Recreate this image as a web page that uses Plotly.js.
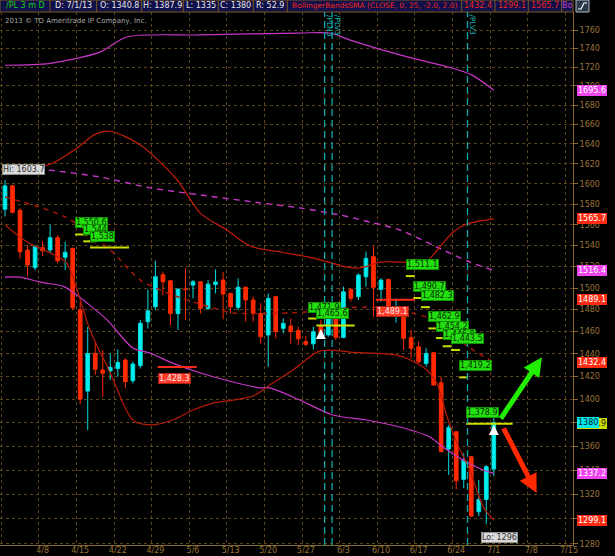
<!DOCTYPE html>
<html><head><meta charset="utf-8">
<script src="https://cdn.plot.ly/plotly-3.0.1.min.js"></script>
<style>html,body{margin:0;padding:0;background:#000;}#chart{width:615px;height:556px;}</style>
</head><body><div id="chart"></div>
<script>
// ---------- DATA ----------
const openP  = [1575,1598,1574,1535.7,1519,1538,1535.7,1547.5,1528.8,1537.3,1479.7,1407.2,1440.4,1425.7,1424.8,1427,1434.5,1416.3,1429.5,1469,1482.7,1512.4,1506.7,1476.4,1499,1502.7,1505.8,1481.2,1503.3,1507.4,1495,1482.1,1500.7,1488.9,1476.4,1457,1491.9,1463,1465,1461,1451,1449,1464.5,1457,1478.2,1454.8,1498.7,1492,1510.5,1529.4,1498.7,1508,1474.3,1475,1454.5,1446.4,1431.5,1441,1414.5,1357.6,1372.2,1332.3,1351.1,1305.8,1315.8,1340.8];
const highP  = [1603.7,1599,1576,1540.5,1540.5,1544.2,1560,1550,1543.6,1538,1487.3,1464.5,1450.9,1443.4,1440.4,1444,1436,1433,1470.5,1498.7,1525.5,1515,1507.4,1499.6,1518.4,1507.4,1506,1507.4,1517.4,1515,1495.5,1509,1501.3,1492,1485.9,1495,1492.5,1472,1472,1464.5,1456,1464.5,1470.5,1487.3,1479.7,1501.3,1499.6,1513.7,1534.2,1539.2,1509,1508,1490,1476.4,1461.5,1450.9,1445,1442,1419.8,1378,1372.5,1354,1351.5,1331.7,1344,1387.9];
const lowP   = [1568,1571,1527.7,1510.5,1516.8,1530,1533,1523,1516.8,1479.7,1396,1373.6,1421.3,1402.3,1416.9,1419.8,1409.6,1414,1427,1463,1479.7,1493.5,1466,1461.5,1470.5,1490.5,1476.4,1479.7,1495,1471.2,1476.4,1479.7,1469,1469,1449.1,1428.6,1454,1458.5,1449.1,1447.9,1446.9,1444,1454,1455.4,1452.4,1454,1487.3,1488.9,1501.3,1473.6,1487.3,1479.7,1468,1443.4,1436,1431.5,1428.6,1411.6,1355,1335.9,1324,1325,1301.8,1302.3,1296,1335];
const closeP = [1598,1572,1534,1521.5,1539,1535,1547.5,1525.5,1533.6,1481.8,1400.3,1440.4,1426.3,1422.8,1428,1432.4,1415.4,1431,1467.5,1478.9,1510.5,1505.8,1476.4,1499,1498.5,1505.8,1481.2,1503.6,1505.5,1494.4,1482.7,1500.7,1488.9,1476.4,1455.4,1490.4,1459.9,1467.5,1460,1453.5,1448.6,1460,1456,1475,1454.8,1496.5,1490.4,1512.1,1527.8,1500.7,1507.4,1482.7,1477,1454,1445,1433,1440.4,1412.5,1355.3,1375.9,1331.1,1348.4,1302.3,1315.8,1342.8,1380];

// Bollinger (25, 2.0) - red
const bbUpperX = [0,6,9.6,12,14,18,22.9,26,29.5,32.6,36.6,41,45.5,47.2,49.9,52.5,55.9,57.8,59.6,61.4,65];
const bbUpperY = [1611,1619.5,1636,1650,1653,1639,1603.8,1571,1554.9,1539.5,1533.8,1528.1,1519.6,1518.7,1524.3,1524.3,1524.3,1538.6,1553,1560.7,1565.7];
const bbMidX = [0,8,14,18,22.3,26,30.3,33,38,43,46,50,54,56,59,61.6,65];
const bbMidY = [1587,1567.5,1535.7,1507.4,1493.5,1485,1477,1476.4,1477,1479.7,1482,1482,1477,1473.3,1460,1446.4,1432.4];
const bbLowerX = [0,2,3.7,6,8.2,9.6,11.3,14,17,19.3,22.3,25,27.7,30.3,33,34.3,35.2,38.3,41.5,43.2,45.9,52.1,53.9,56.1,57.4,58.8,60.1,61.8,63.6,65];
const bbLowerY = [1560,1548,1540.5,1533,1523.5,1498,1461.5,1423,1382.2,1378,1382.2,1390.8,1396.8,1399.4,1402.9,1408.1,1412.5,1425.7,1441.6,1443.4,1441.6,1438.9,1434.5,1425.7,1414.3,1384.8,1362.7,1340,1309.6,1299.1];
// second Bollinger band - magenta
const mgUpperX = [0,6,12.6,16.2,26,39.2,43.2,45.9,52.5,59.2,62,65];
const mgUpperY = [1722,1724,1736,1752.4,1754.6,1756.7,1756.7,1749,1733,1719.5,1712,1695.6];
const mgMidX = [0,5.6,12.6,19.3,26,34,39.2,44.5,48.5,52.5,57.4,61.8,65];
const mgMidY = [1616,1613.8,1606.8,1596,1589,1581.2,1576.3,1569.5,1562.6,1554.9,1538.6,1524.3,1516.4];
const mgLowerX = [0,2,4.7,7.7,9,10.9,13.6,17,19.3,22.3,26,30.3,34,35.2,39.2,43.6,48.1,52.5,56.5,58.2,60.9,63.6,65];
const mgLowerY = [1510.2,1510.2,1505.5,1501.7,1496.3,1486.2,1470.5,1445.2,1440.7,1431.8,1423,1415.1,1410,1410,1399.4,1386.5,1382.2,1376.2,1367.7,1359.3,1348.4,1340,1337.2];

const weekTicks = ['4/8','4/15','4/22','4/29','5/6','5/13','5/20','5/27','6/3','6/10','6/17','6/24','7/1','7/8','7/15'];
const priceTicks = [1280,1300,1320,1340,1360,1380,1400,1420,1440,1460,1480,1500,1520,1540,1560,1580,1600,1620,1640,1660,1680,1700,1720,1740,1760];

const greenText  = ['1,550.6','1,544','1,538','1,471.9','1,465.6','1,511.1','1,490.7','1,482.3','1,462.9','1,454.2','1,446.8','1,443.5','1,419.2','1,378.9'];
const greenPrice = [1550.6,1544,1538,1471.9,1465.6,1511.1,1490.7,1482.3,1462.9,1454.2,1446.8,1443.5,1419.2,1378.9];
const greenStart = [9.3,10.4,11.3,40.3,41.4,53.3,54.3,55.3,56.3,57.3,58.2,59.3,60.4,61.3];
const greenEnd   = [11.0,12.2,16.5,41.5,46.5,54.5,55.5,56.5,57.3,58.2,59.4,60.5,61.4,67.5];
const redText  = ['1,428.3','1,489.1'];
const redPrice = [1428.3,1489.1];
const redStart = [20.3,49.3];
const redEnd   = [25.5,54.5];

const sideText  = ['1695.6','1565.7','1516.4','1489.1','1432.4','1378.9','1380','1337.2','1299.1'];
const sidePrice = [1695.6,1565.7,1516.4,1489.1,1432.4,1378.9,1380,1337.2,1299.1];
const sideBg    = ['#f044f0','#ff2a12','#f044f0','#ff2a12','#ff2a12','#c8dc00','#00e8e8','#f044f0','#ff2a12'];
const sideFg    = ['#ffffff','#ffffff','#ffffff','#ffffff','#ffffff','#202000','#002030','#ffffff','#ffffff'];

const hiText = 'Hi: 1603.7', hiPrice = 1603.7, hiIdx = 0;
const loText = 'Lo: 1296', loPrice = 1296, loIdx = 64;
const expiryIdx = [42.5, 43.5, 61.5];
const expiryText = ['/PLN3','/PLV3','/PLV3'];
const buyIdx = [42, 65];
const buyPrice = [1462.4, 1377.9];

const headerText  = ['/PL 3 m D','D: 7/1/13','O: 1340.8','H: 1387.9','L: 1335','C: 1380','R: 52.9','BollingerBandsSMA (CLOSE, 0, 25, -2.0, 2.0)','1432.4','1299.1','1565.7','Bo'];
const headerColor = ['#19d019','#e8e8e8','#e8e8e8','#e8e8e8','#e8e8e8','#e8e8e8','#e8e8e8','#ee2a1a','#ee2a1a','#ee2a1a','#ee2a1a','#c040d0'];
const headerEdges = [0,50,96.7,141.7,183.3,218.3,253.3,287.3,461.7,495,528.3,561.7,573];

// ---------- LAYOUT HELPERS ----------
const W = 615, H = 556, ML = 0, MR = 42, MT = 12, MB = 11;
const PW = W - ML - MR, PH = H - MT - MB;
const px = x => (x - ML) / PW;
const py = y => (H - MB - y) / PH;
const L = v => Math.log10(v);
const FONT = 'DejaVu Sans';
const BROWN = '#9a7434';

const idx = openP.map((_, i) => i);
const traces = [];
traces.push({
  type: 'candlestick', x: idx, open: openP, high: highP, low: lowP, close: closeP,
  increasing: {line: {color: '#00dede', width: 1}, fillcolor: '#00f0f0'},
  decreasing: {line: {color: '#ff2a00', width: 1}, fillcolor: '#ff2a00'},
  whiskerwidth: 0, hoverinfo: 'skip', showlegend: false
});
function line(x, y, color, dash, width) {
  traces.push({type: 'scatter', mode: 'lines', x: x, y: y, line: {color: color, width: width || 1.2, dash: dash || 'solid', shape: 'spline', smoothing: 0.8}, hoverinfo: 'skip', showlegend: false});
}
line(mgUpperX, mgUpperY, '#c838c8');
line(mgMidX, mgMidY, '#c838c8', '6px,5px', 1.4);
line(mgLowerX, mgLowerY, '#c838c8');
line(bbUpperX, bbUpperY, '#c41c0a');
line(bbMidX, bbMidY, '#b01808', '5px,5px', 1.4);
line(bbLowerX, bbLowerY, '#b81a0a');
greenPrice.forEach((p, k) => traces.push({type: 'scatter', mode: 'lines', x: [greenStart[k], greenEnd[k]], y: [p, p], line: {color: '#cce000', width: 2}, hoverinfo: 'skip', showlegend: false}));
redPrice.forEach((p, k) => traces.push({type: 'scatter', mode: 'lines', x: [redStart[k], redEnd[k]], y: [p, p], line: {color: '#ff2a1a', width: 2}, hoverinfo: 'skip', showlegend: false}));

const shapes = [];
const annotations = [];
// header bar
shapes.push({type: 'rect', xref: 'paper', yref: 'paper', x0: 0, x1: px(573), y0: py(12), y1: py(0), fillcolor: '#10104a', line: {color: '#7a5a1a', width: 1}, layer: 'above'});
headerEdges.slice(1, -1).forEach(e => shapes.push({type: 'line', xref: 'paper', yref: 'paper', x0: px(e), x1: px(e), y0: py(12), y1: py(0), line: {color: '#7a5a1a', width: 1}, layer: 'above'}));
headerText.forEach((t, k) => annotations.push({xref: 'paper', yref: 'paper', x: px((headerEdges[k] + headerEdges[k + 1]) / 2), y: py(6), text: t, showarrow: false, font: {family: FONT, size: k === 7 ? 7.5 : 8, color: headerColor[k]}, xanchor: 'center', yanchor: 'middle'}));
// icon
shapes.push({type: 'rect', xref: 'paper', yref: 'paper', x0: px(576), x1: px(589), y0: py(12), y1: py(0), fillcolor: '#2a3a4a', line: {color: '#b0b8c0', width: 1}, layer: 'above'});
shapes.push({type: 'path', xref: 'paper', yref: 'paper', path: `M ${px(578)} ${py(9)} L ${px(581)} ${py(9)} L ${px(584)} ${py(3)} L ${px(587)} ${py(3)}`, line: {color: '#ffffff', width: 1.2}, layer: 'above'});
// copyright
annotations.push({xref: 'paper', yref: 'paper', x: px(3), y: py(21), text: '2013 © TD Ameritrade IP Company, Inc.', showarrow: false, xanchor: 'left', yanchor: 'middle', font: {family: FONT, size: 7, color: '#a8a8a8'}});
// expiry lines
expiryIdx.forEach((e, k) => {
  shapes.push({type: 'line', xref: 'x', yref: 'paper', x0: e, x1: e, y0: 0, y1: py(12), line: {color: '#10a8a8', width: 1.3, dash: '7px,4px'}, layer: 'above'});
  annotations.push({xref: 'x', yref: 'paper', x: e, y: py(13), text: expiryText[k], textangle: 90, showarrow: false, xanchor: 'left', yanchor: 'top', xshift: -1, font: {family: FONT, size: 7.5, color: '#10b8b8'}});
});
// price bubbles
greenText.forEach((t, k) => annotations.push({x: greenStart[k], y: L(greenPrice[k]), text: t, showarrow: false, xanchor: 'left', yanchor: 'bottom', yshift: 6, bgcolor: '#22e010', bordercolor: '#119000', borderwidth: 1, borderpad: 0, font: {family: FONT, size: 8, color: '#0a2a00'}}));
redText.forEach((t, k) => annotations.push({x: redStart[k], y: L(redPrice[k]), text: t, showarrow: false, xanchor: 'left', yanchor: 'top', yshift: -6, bgcolor: '#ff3a28', bordercolor: '#b02010', borderwidth: 1, borderpad: 0, font: {family: FONT, size: 8, color: '#ffe8e8'}}));
annotations.push({x: hiIdx - 0.4, y: L(hiPrice), text: hiText, showarrow: false, xanchor: 'left', yanchor: 'bottom', yshift: 5, bgcolor: '#d8d8d8', bordercolor: '#909090', borderwidth: 1, borderpad: 0, font: {family: FONT, size: 8, color: '#303030'}});
annotations.push({x: loIdx - 0.7, y: L(loPrice), text: loText, showarrow: false, xanchor: 'left', yanchor: 'top', yshift: -8, bgcolor: '#d8d8d8', bordercolor: '#909090', borderwidth: 1, borderpad: 0, font: {family: FONT, size: 8, color: '#303030'}});
// side price boxes
sideText.forEach((t, k) => annotations.push({xref: 'paper', x: px(577), y: L(sidePrice[k]), text: t, showarrow: false, xanchor: 'left', yanchor: 'middle', bgcolor: sideBg[k], bordercolor: sideBg[k], borderwidth: 1, borderpad: 0, font: {family: FONT, size: 8, color: sideFg[k]}}));
// buy arrows
buyIdx.forEach((b, k) => annotations.push({x: b, y: L(buyPrice[k]), text: '', showarrow: true, ax: 0, ay: 10, arrowhead: 2, arrowsize: 1, arrowwidth: 2, arrowcolor: '#ffffff'}));
// forecast arrows
annotations.push({x: 71.4, y: L(1437), axref: 'x', ayref: 'y', ax: 65.8, ay: L(1382.2), text: '', showarrow: true, arrowhead: 2, arrowsize: 0.75, arrowwidth: 5, arrowcolor: '#22ee00'});
annotations.push({x: 70.7, y: L(1321), axref: 'x', ayref: 'y', ax: 66.2, ay: L(1376.4), text: '', showarrow: true, arrowhead: 2, arrowsize: 0.75, arrowwidth: 5, arrowcolor: '#ff2a00'});

const tickIdx = weekTicks.map((_, k) => 5 * (k + 1));
const gridIdx = [-0.5].concat(tickIdx.map(v => v - 0.5));

const layout = {
  width: W, height: H, margin: {l: ML, r: MR, t: MT, b: MB},
  paper_bgcolor: '#000', plot_bgcolor: '#000', showlegend: false,
  font: {family: FONT, size: 8, color: BROWN},
  xaxis: {range: [-0.665, 75.53], tickmode: 'array', tickvals: tickIdx, ticktext: weekTicks, showgrid: false, zeroline: false,
    showline: true, linecolor: '#8a6a2a', ticks: '', ticklabelstandoff: -3, tickfont: {family: FONT, size: 8, color: BROWN}, rangeslider: {visible: false}, fixedrange: true,
    minor: {tickmode: 'array', tickvals: gridIdx, showgrid: true, gridcolor: '#5a4618', griddash: 'dot', gridwidth: 1, ticks: ''}},
  yaxis: {type: 'log', range: [3.106938, 3.250356], side: 'right', tickmode: 'array', tickvals: priceTicks, ticktext: priceTicks.map(String),
    showgrid: true, gridcolor: '#5a4618', griddash: 'dot', gridwidth: 1, zeroline: false, showline: true, mirror: true, linecolor: '#8a6a2a',
    ticks: 'outside', ticklen: 4, tickcolor: '#8a6a2a', tickfont: {family: FONT, size: 8, color: BROWN}, fixedrange: true},
  shapes: shapes, annotations: annotations
};
Plotly.newPlot('chart', traces, layout, {staticPlot: true, displayModeBar: false});
</script></body></html>
